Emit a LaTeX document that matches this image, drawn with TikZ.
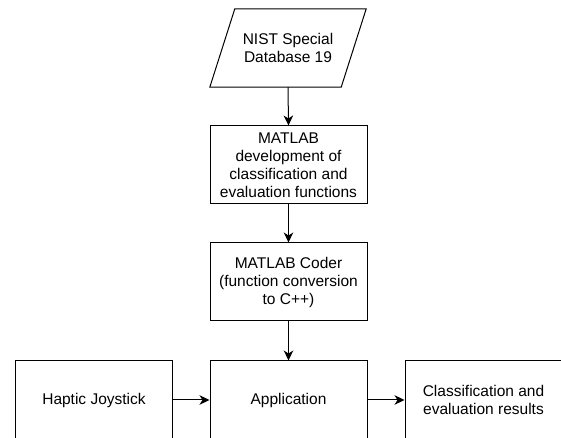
\documentclass[tikz,border=0pt]{standalone}
\usepackage{fontspec}
\setmainfont{Liberation Sans}
\usetikzlibrary{arrows.meta}
\begin{document}
\begin{tikzpicture}[x=1pt,y=1pt,
        box/.style={draw=black,line width=1pt,minimum width=157,minimum height=78,
            inner sep=0pt,align=center,font=\fontsize{15.5}{18}\selectfont},
        io/.style={minimum width=131,minimum height=78,inner sep=0pt,
            align=center,font=\fontsize{15.5}{18}\selectfont},
        arr/.style={line width=1pt,-{Stealth[length=10pt,width=9.5pt,inset=3pt]}}]
    \useasboundingbox[fill=white] (0,0) rectangle (561,438);

    % input data
    \node[io] at (288,390) (nist) {NIST Special\\Database 19};
    \draw[line width=1pt] ([xshift=12.5]nist.north west) -- ([xshift=12.5]nist.north east)
        -- ([xshift=-12.5]nist.south east) -- ([xshift=-12.5]nist.south west) -- cycle;

    \node[box] at (288.5,273) (dev) {MATLAB\\development of\\classification and\\evaluation functions};
    \node[box] at (288.5,156) (coder) {MATLAB Coder\\(function conversion\\to C++)};

    % bottom row
    \node[box] at (94,38) (haptic) {Haptic Joystick};
    \node[box] at (288.5,38) (app) {Application};
    \node[box] at (483.5,38) (res) {Classification and\\evaluation results};

    \draw[arr] (nist.south) -- (dev.north);
    \draw[arr] (dev.south) -- (coder.north);
    \draw[arr] (coder.south) -- (app.north);
    \draw[arr] (haptic.east) -- (app.west);
    \draw[arr] (app.east) -- (res.west);
\end{tikzpicture}
\end{document}
